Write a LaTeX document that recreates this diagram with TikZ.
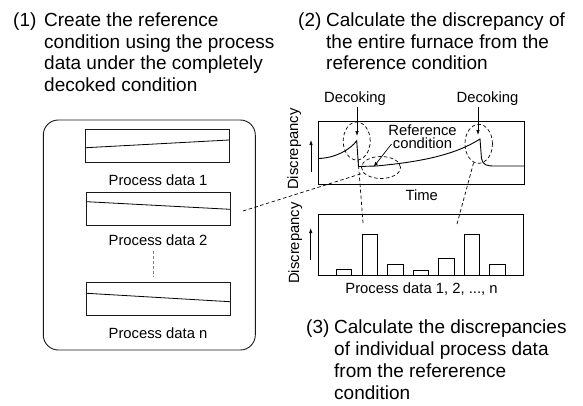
\documentclass[tikz,border=0pt]{standalone}
\usepackage{fontspec}
\setmainfont{Liberation Sans}
\usetikzlibrary{arrows.meta,shapes.geometric}
\begin{document}
\begin{tikzpicture}[x=1pt,y=-1pt,
  big/.style={anchor=base west,inner sep=0pt,font=\fontsize{19}{22}\selectfont},
  small/.style={anchor=base,inner sep=0pt,font=\fontsize{14.8}{17}\selectfont},
  ln/.style={line width=0.9pt,draw=black!90},
  thin/.style={line width=0.8pt},
  arr/.style={line width=0.7pt,-{Latex[length=5pt,width=3.5pt]}},
  dsh/.style={line width=0.7pt,dash pattern=on 3.5pt off 2.5pt},
  ell/.style={ellipse,draw,dsh,inner sep=0pt},
  databox/.style={draw,ln,minimum width=143.5pt,minimum height=33pt,inner sep=0pt},
  bar/.style={draw,line width=0.9pt}]
\useasboundingbox (0,0) rectangle (583,405);

% ---------- headings ----------
\node[big] (h1n) at (13,26.5) {(1)};
\node[big] (h1a) at (44,26.5) {Create the reference};
\node[big] (h1b) at (44,48) {condition using the process};
\node[big] (h1c) at (44,69.5) {data under the completely};
\node[big] (h1d) at (44,91) {decoked condition};

\node[big] (h2n) at (298,26.5) {(2)};
\node[big] (h2a) at (326,26.5) {Calculate the discrepancy of};
\node[big] (h2b) at (326,48) {the entire furnace from the};
\node[big] (h2c) at (326,69.5) {reference condition};

\node[big] (h3n) at (306,333) {(3)};
\node[big] (h3a) at (334,333) {Calculate the discrepancies};
\node[big] (h3b) at (334,355) {of individual process data};
\node[big] (h3c) at (334,377) {from the refererence};
\node[big] (h3d) at (334,399) {condition};

% ---------- left panel ----------
\node[draw,ln,rounded corners=15pt,minimum width=212pt,minimum height=230pt,inner sep=0pt] (panel) at (149.3,235) {};
\node[databox] (box1) at (157.5,145.8) {};
\node[databox] (box2) at (158.5,209.3) {};
\node[databox] (boxn) at (158.5,299) {};
\draw[thin] (86,147.7) -- (229,140);
\draw[thin] (87,201.7) -- (230,209.3);
\draw[thin] (87,293.3) -- (230,301.7);
\node[small] (l1) at (158,185.3) {Process data 1};
\node[small] (l2) at (158,245.3) {Process data 2};
\node[small] (ln) at (158,338) {Process data n};
\coordinate (g1) at (153.7,250.7);
\coordinate (g2) at (153.7,276);
\draw[gray,line width=0.9pt,dash pattern=on 3pt off 2pt] (g1) -- (g2);

% ---------- top chart ----------
\node[draw,line width=0.9pt,minimum width=205.5pt,minimum height=62.8pt,inner sep=0pt] (chart1) at (421.25,152.9) {};
\draw[line width=0.9pt] (318.5,158.5) .. controls (335,158) and (350,150) .. (356.7,140.7)
  -- (358.5,166.5) -- (376,166) .. controls (420,162) and (455,155) .. (480,139)
  -- (481.5,158.5) .. controls (483,165) and (486,166) .. (495,166) -- (524,166);
\node[ell,minimum width=27pt,minimum height=38pt] (e1) at (356.7,141) {};
\node[ell,minimum width=39pt,minimum height=22pt] (e2) at (381,167.5) {};
\node[ell,minimum width=27.5pt,minimum height=39pt] (e3) at (478.7,143.8) {};

\node[small] (dk1) at (355,102) {Decoking};
\node[small] (dk2) at (487.5,102) {Decoking};
\coordinate (t1) at (357,136);
\coordinate (t2) at (478,135);
\draw[arr] (dk1.south -| t1) ++(0,2) -- (t1);
\draw[arr] (dk2.south -| t2) ++(0,2) -- (t2);

\node[small] (rc1) at (422.5,135) {Reference};
\node[small] (rc2) at (422.5,148.5) {condition};
\coordinate (rcs) at (391.5,144);
\coordinate (rct) at (373.5,167);
\draw[arr] (rcs) -- (rct);

\node[small] (time) at (421.7,200.7) {Time};
\node[small,rotate=90] (disc1) at (298,149) {Discrepancy};
\coordinate (a1s) at (311,172);
\coordinate (a1e) at (311,140);
\draw[arr] (a1s) -- (a1e);

% ---------- bottom chart ----------
\node[draw,line width=0.9pt,minimum width=205.5pt,minimum height=61pt,inner sep=0pt] (chart2) at (420.75,244.5) {};
\draw[bar] (336.7,275) rectangle (351.7,269.3);
\draw[bar] (362.7,275) rectangle (377.3,234);
\draw[bar] (387.3,275) rectangle (403.3,264);
\draw[bar] (413.3,275) rectangle (428.3,270);
\draw[bar] (438.7,275) rectangle (454,258.3);
\draw[bar] (464.3,275) rectangle (479.3,234);
\draw[bar] (489.3,275) rectangle (505,264);
\node[small] (pd) at (421.5,293.3) {Process data 1, 2, ..., n};
\node[small,rotate=90] (disc2) at (299,243) {Discrepancy};
\coordinate (a2s) at (310.7,260);
\coordinate (a2e) at (310.7,228);
\draw[arr] (a2s) -- (a2e);

% ---------- dashed connectors ----------
\coordinate (c2) at (243,211);
\draw[dsh] (c2) -- (e2);
\coordinate (b1) at (363,223);
\coordinate (b2) at (457,224);
\draw[dsh] (b1) -- (e1);
\draw[dsh] (b2) -- (e3);
\end{tikzpicture}
\end{document}
